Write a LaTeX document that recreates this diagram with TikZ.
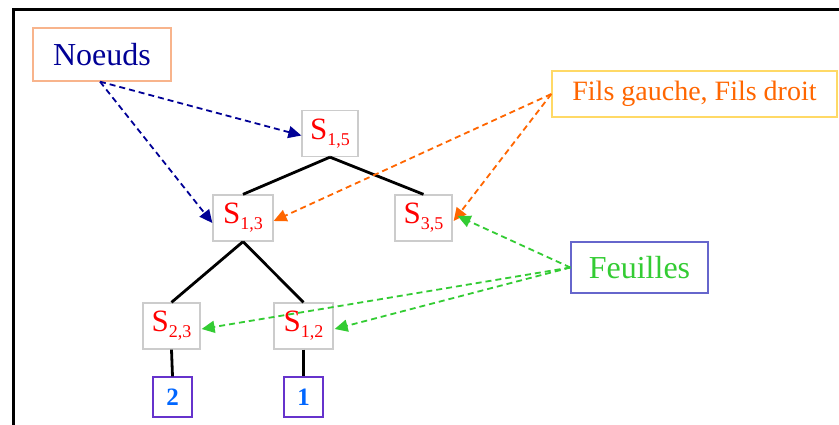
\documentclass[tikz,border=0pt]{standalone}
\usepackage{fontspec}
\setmainfont{Liberation Serif}
\usetikzlibrary{arrows.meta}
\definecolor{navyc}{RGB}{0,0,150}
\definecolor{redc}{RGB}{255,0,0}
\definecolor{orangec}{RGB}{255,102,0}
\definecolor{greenc}{RGB}{51,204,51}
\definecolor{bluec}{RGB}{0,102,255}
\definecolor{peach}{RGB}{248,180,140}
\definecolor{grayb}{RGB}{204,204,204}
\definecolor{yellowb}{RGB}{255,217,102}
\definecolor{violetb}{RGB}{102,102,204}
\definecolor{purpleb}{RGB}{102,51,204}
\newcommand{\Snode}[2]{S\raisebox{-0.2em}{\fontsize{18}{18}\selectfont #1,#2}}
\tikzset{
  box/.style={draw, line width=1.3pt, inner sep=0pt, anchor=center},
  snode/.style={box, draw=grayb, text=redc, font=\fontsize{31}{31}\selectfont, minimum height=46pt},
  leaf/.style={box, draw=purpleb, text=bluec, font=\fontsize{25}{25}\selectfont\bfseries, minimum width=39pt, minimum height=40pt},
  edge/.style={line width=2.8pt, black},
  arr/.style={line width=1.8pt, dash pattern=on 6pt off 4pt, -{Triangle[length=13pt,width=12pt]}},
}
\begin{document}
\begin{tikzpicture}[x=1pt,y=-1pt]
\useasboundingbox (0,0) rectangle (839,424);
\fill[white] (0,0) rectangle (839,424);
\draw[line width=3pt] (13,440) -- (13,9) -- (850,9);

\node[box, draw=peach, text=navyc, font=\fontsize{32}{32}\selectfont, minimum width=138pt, minimum height=53pt] (noeuds) at (102,54.5) {Noeuds};
\node[box, draw=yellowb, text=orangec, font=\fontsize{28}{28}\selectfont, minimum width=285pt, minimum height=46pt] (fils) at (694.5,94) {Fils gauche, Fils droit};
\node[box, draw=violetb, text=greenc, font=\fontsize{32}{32}\selectfont, minimum width=137pt, minimum height=51pt] (feuilles) at (639.5,267.5) {Feuilles};

\node[snode, minimum width=56pt] (s15) at (330,133.5) {\Snode{1}{5}};
\node[snode, minimum width=60pt] (s13) at (243,218) {\Snode{1}{3}};
\node[snode, minimum width=57pt] (s35) at (423.5,218) {\Snode{3}{5}};
\node[snode, minimum width=57pt] (s23) at (171.5,326) {\Snode{2}{3}};
\node[snode, minimum width=59pt] (s12) at (303.5,326) {\Snode{1}{2}};
\node[leaf] (l2) at (172.5,397) {2};
\node[leaf] (l1) at (303.5,397) {1};

\draw[edge] (s15.south) -- (s13.north);
\draw[edge] (s15.south) -- (s35.north);
\draw[edge] (s13.south) -- (s23.north);
\draw[edge] (s13.south) -- (s12.north);
\draw[edge] (s23.south) -- (l2.north);
\draw[edge] (s12.south) -- (l1.north);

\coordinate (nstart) at ([xshift=-2pt]noeuds.south);
\draw[arr, navyc] (nstart) -- ([yshift=-2pt]s15.west);
\draw[arr, navyc] (nstart) -- ([yshift=-5pt]s13.west);
\draw[arr, orangec] (fils.west) -- ([yshift=-3pt]s13.east);
\draw[arr, orangec] (fils.west) -- ([xshift=1pt,yshift=-3pt]s35.east);
\draw[arr, greenc] (feuilles.west) -- ([xshift=5pt,yshift=2pt]s35.east);
\draw[arr, greenc] (feuilles.west) -- ([xshift=1pt,yshift=-3pt]s23.east);
\draw[arr, greenc] (feuilles.west) -- ([xshift=1pt,yshift=-3pt]s12.east);
\end{tikzpicture}
\end{document}
